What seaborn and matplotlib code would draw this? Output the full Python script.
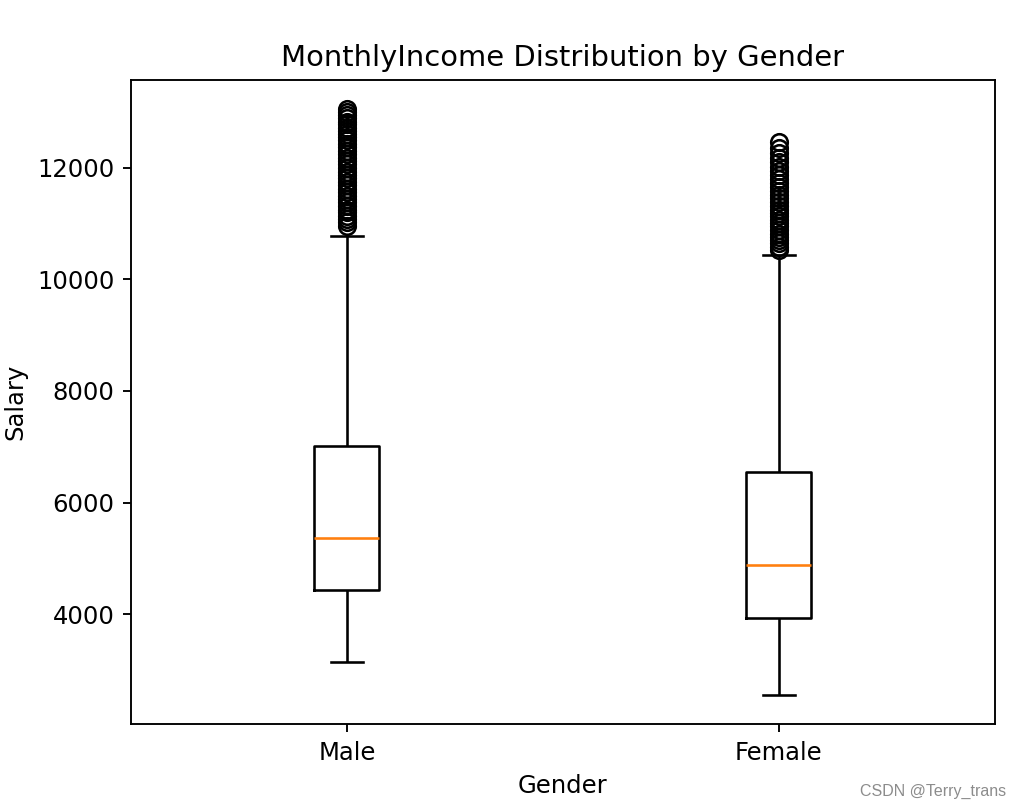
import numpy as np
import pandas as pd
import seaborn as sns
import matplotlib.pyplot as plt

# Box statistics
genders = ["Male", "Female"]
whisker_low = [3145, 2555]
q1 = [4440, 3935]
median = [5360, 4880]
q3 = [7010, 6545]
whisker_high = [10780, 10430]

male_outliers = [10960, 11020, 11080, 11130, 11200, 11250, 11310, 11380, 11440,
                 11500, 11560, 11620, 11690, 11750, 11810, 11880, 11930, 11990,
                 12060, 12120, 12180, 12240, 12300, 12380, 12430, 12490, 12550,
                 12610, 12660, 12720, 12780, 12830, 12890, 12940, 13000, 13050]
female_outliers = [10530, 10580, 10650, 10710, 10760, 10820, 10880, 10950, 11010,
                   11070, 11130, 11190, 11250, 11320, 11390, 11450, 11520, 11580,
                   11660, 11730, 11800, 11870, 11940, 12010, 12100, 12180, 12270,
                   12350, 12470]
outliers = [male_outliers, female_outliers]

# Build a sample per gender whose quartiles reproduce the stats above
rows = []
for i, g in enumerate(genders):
    vals = ([whisker_low[i]] + [q1[i]] * 50 + [median[i]] * 50 + [q3[i]] * 50
            + [whisker_high[i]] + outliers[i])
    rows += [(g, v) for v in vals]
df = pd.DataFrame(rows, columns=["Gender", "Salary"])

plt.rcParams["font.size"] = 10.25

fig, ax = plt.subplots(figsize=(1015 / 170, 811 / 170), dpi=170)
fig.subplots_adjust(left=0.129, right=0.980, top=0.9014, bottom=0.1073)

sns.boxplot(data=df, x="Gender", y="Salary", order=genders, ax=ax,
            fill=False, color="black", width=0.15, linewidth=1.1,
            medianprops=dict(color="#ff7f0e", linewidth=1.1),
            flierprops=dict(marker="o", markerfacecolor="none",
                            markeredgecolor="black", markersize=7,
                            markeredgewidth=1.1))

ax.set_xlim(-0.5, 1.5)
ax.set_title("MonthlyIncome Distribution by Gender")
ax.set_xlabel("Gender")
ax.set_ylabel("Salary")

fig.text(0.991, 0.024, "CSDN @Terry_trans", ha="right", va="center",
         fontsize=6.8, color="#8c8c8c", family=["Liberation Sans", "DejaVu Sans"])

plt.savefig("out.png", dpi=170)
